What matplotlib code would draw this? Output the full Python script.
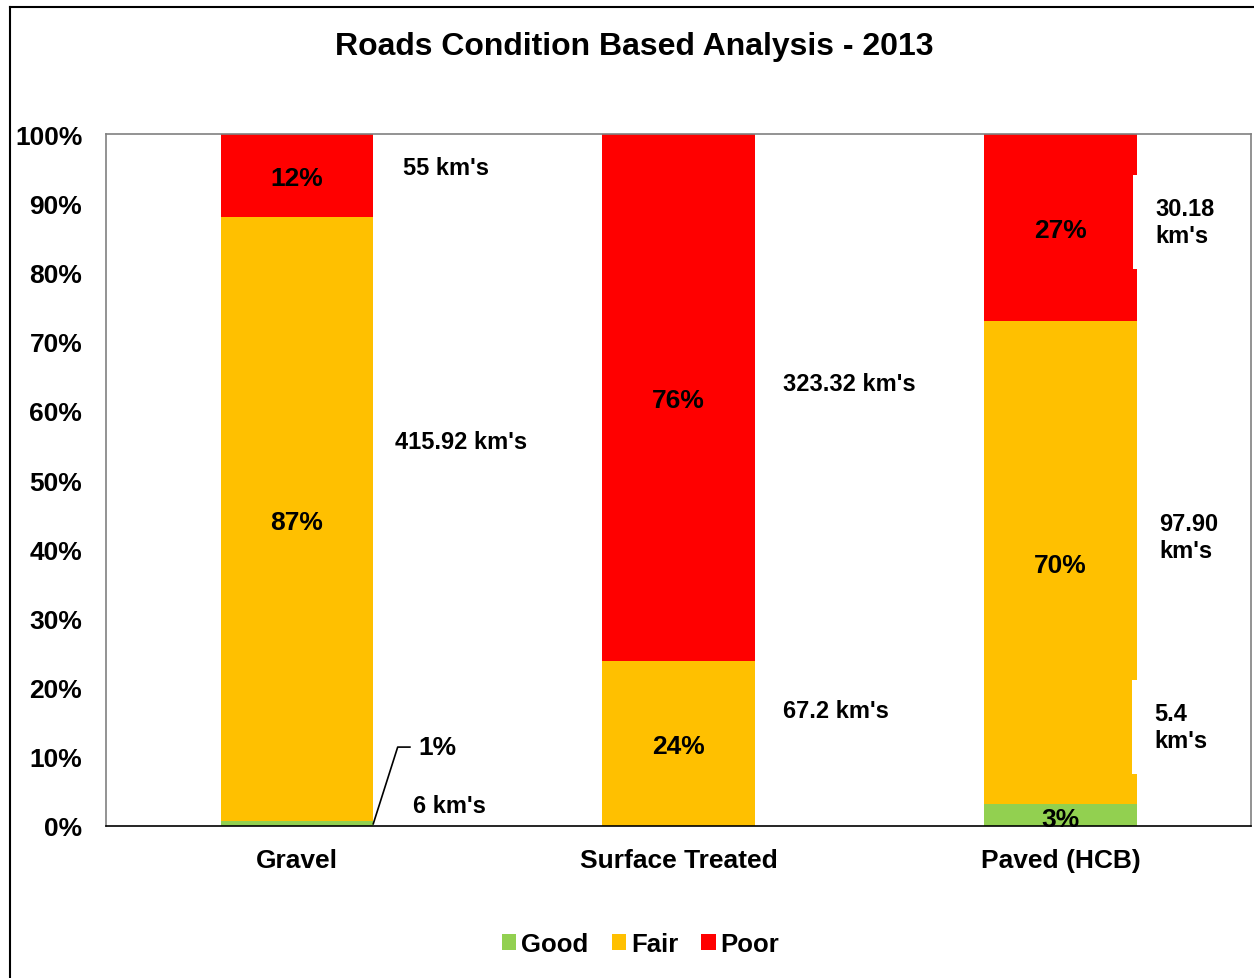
import numpy as np
import matplotlib
matplotlib.use('Agg')
import matplotlib.pyplot as plt
from matplotlib.lines import Line2D

plt.rcParams['font.family'] = ['Liberation Sans', 'DejaVu Sans']
plt.rcParams['font.weight'] = 'bold'

categories = ['Gravel', 'Surface Treated', 'Paved (HCB)']
good = [0.7, 0.0, 3.2]
fair = [87.3, 23.8, 69.8]
poor = [12.0, 76.2, 27.0]
good_lbl = ['', '', '3%']
fair_lbl = ['87%', '24%', '70%']
poor_lbl = ['12%', '76%', '27%']
series_names = ['Good', 'Fair', 'Poor']
colors = ['#92D050', '#FFC000', '#FF0000']

# km labels: (bar index, x offset, y, text, white box behind)
km_labels = [
    (0, 0.277, 95.2, "55 km's", False),
    (0, 0.257, 55.5, "415.92 km's", False),
    (0, 0.304, 3.0, "6 km's", False),
    (1, 0.272, 63.9, "323.32 km's", False),
    (1, 0.272, 16.7, "67.2 km's", False),
    (2, 0.249, 87.3, "30.18\nkm's", True),
    (2, 0.259, 41.8, "97.90\nkm's", False),
    (2, 0.246, 14.3, "5.4\nkm's", True),
]

fig = plt.figure(figsize=(12.54, 9.79), dpi=100)
ax = fig.add_axes([0.0845, 0.1553, 0.9135, 0.7067])

x = np.arange(len(categories))
w = 0.4
bottom = np.zeros(len(categories))
for vals, name, c in zip([good, fair, poor], series_names, colors):
    ax.bar(x, vals, w, bottom=bottom, color=c, label=name, edgecolor='none')
    bottom += np.array(vals)

b = np.zeros(len(categories))
for vals, lbls in zip([good, fair, poor], [good_lbl, fair_lbl, poor_lbl]):
    for i in range(len(categories)):
        if lbls[i]:
            yc = b[i] + vals[i] / 2
            if i == 2 and vals is good:
                yc = 1.4
            ax.text(x[i], yc, lbls[i], ha='center', va='center_baseline',
                    fontsize=19, fontweight='bold')
    b += np.array(vals)

for i, dx, y, t, box in km_labels:
    bb = dict(fc='white', ec='none', pad=16) if box else None
    ax.text(x[i] + dx, y, t, ha='left', va='center', fontsize=17,
            fontweight='bold', linespacing=1.25, bbox=bb)

# leader line for the 1% Good label on Gravel
ax.plot([x[0] + 0.2, x[0] + 0.264, x[0] + 0.296], [0.3, 11.4, 11.4],
        color='black', lw=1.2, clip_on=False)
ax.text(x[0] + 0.317, 11.4, '1%', ha='left', va='center', fontsize=19,
        fontweight='bold')

ax.set_xlim(-0.5, 2.5)
ax.set_ylim(0, 100)
ax.set_yticks(np.arange(0, 101, 10))
ax.set_yticklabels(['%d%%' % v for v in range(0, 101, 10)], fontsize=19,
                   fontweight='bold')
ax.set_xticks(x)
ax.set_xticklabels(categories, fontsize=19, fontweight='bold')
ax.tick_params(axis='both', length=0)
ax.tick_params(axis='y', pad=17)
ax.tick_params(axis='x', pad=16)
for s in ['left', 'top', 'right']:
    ax.spines[s].set_color('#808080')
    ax.spines[s].set_linewidth(1.2)
ax.spines['bottom'].set_color('black')
ax.spines['bottom'].set_linewidth(1.2)

fig.text(0.506, 1 - 47 / 979, 'Roads Condition Based Analysis - 2013',
         ha='center', va='center', fontsize=23, fontweight='bold')

fig.legend(loc='center', bbox_to_anchor=(0.511, 1 - 945 / 979), ncol=3,
           frameon=False, fontsize=18.5, handlelength=0.55, handleheight=0.55,
           handletextpad=0.2, columnspacing=0.9)

# outer chart border (left and top edges visible)
fig.add_artist(Line2D([10 / 1254, 10 / 1254], [0, 1 - 8 / 979],
                      transform=fig.transFigure, color='black', lw=1.5))
fig.add_artist(Line2D([10 / 1254, 1], [1 - 8 / 979, 1 - 8 / 979],
                      transform=fig.transFigure, color='black', lw=1.5))

fig.savefig('out.png', dpi=100)
